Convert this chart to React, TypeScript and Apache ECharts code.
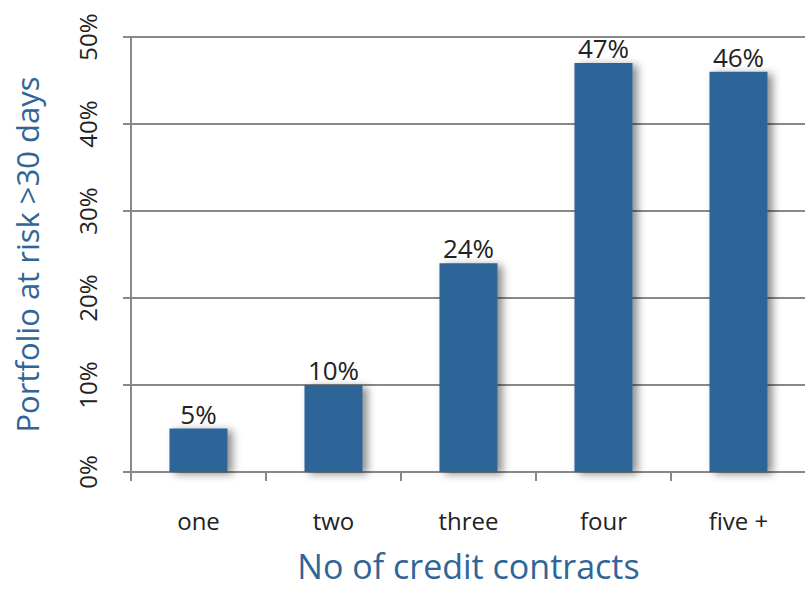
import React, { useEffect, useRef } from "react";
import * as echarts from "echarts";

const categories = ["one", "two", "three", "four", "five +"];
const values = [5, 10, 24, 47, 46];
const yTicks = { min: 0, max: 50, interval: 10 };

export default function App() {
  const ref = useRef<HTMLDivElement>(null);
  useEffect(() => {
    if (!ref.current) return;
    const chart = echarts.init(ref.current, undefined, { renderer: "svg" });
    const font = "'Open Sans', 'Noto Sans', sans-serif";
    chart.setOption({
      animation: false,
      backgroundColor: "#ffffff",
      grid: {
        left: 131,
        right: -1,
        top: 37,
        bottom: 118,
        containLabel: false,
        outerBoundsMode: "none",
      },
      xAxis: {
        type: "category",
        data: categories,
        name: "No of credit contracts",
        nameLocation: "middle",
        nameGap: 76,
        nameTextStyle: { color: "#2f6598", fontSize: 34, lineHeight: 36, fontFamily: font },
        axisLine: { lineStyle: { color: "#888888", width: 2 } },
        axisTick: { show: true, length: 9, lineStyle: { color: "#888888", width: 2 } },
        axisLabel: { color: "#222222", fontSize: 24, fontFamily: font, margin: 36 },
      },
      yAxis: {
        type: "value",
        min: yTicks.min,
        max: yTicks.max,
        interval: yTicks.interval,
        name: "Portfolio at risk >30 days",
        nameLocation: "middle",
        nameRotate: 90,
        nameGap: 89,
        nameTextStyle: { color: "#2f6598", fontSize: 31, fontFamily: font },
        axisLine: { show: true, lineStyle: { color: "#888888", width: 2 } },
        axisTick: { show: true, length: 8, lineStyle: { color: "#888888", width: 2 } },
        axisLabel: {
          rotate: 90,
          color: "#222222",
          fontSize: 24,
          fontFamily: font,
          margin: 32,
          formatter: "{value}%",
        },
        splitLine: { show: true, lineStyle: { color: "#888888", width: 2 } },
      },
      series: [
        {
          type: "bar",
          data: values,
          barWidth: "43%",
          itemStyle: {
            color: "#2f6599",
            shadowColor: "rgba(0,0,0,0.45)",
            shadowBlur: 8,
            shadowOffsetX: 5,
            shadowOffsetY: 2,
          },
          label: {
            show: true,
            position: "top",
            distance: 2,
            formatter: "{c}%",
            color: "#222222",
            fontSize: 26,
            fontFamily: font,
          },
        },
      ],
    });
    return () => chart.dispose();
  }, []);
  return (
    <div
      ref={ref}
      style={{ position: "absolute", left: 0, top: 0, width: 805, height: 590 }}
    />
  );
}
